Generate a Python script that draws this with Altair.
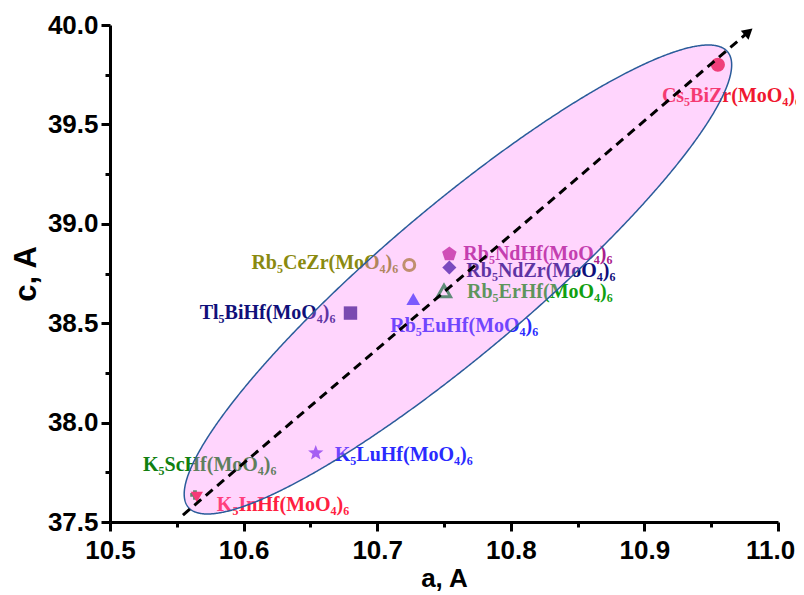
import altair as alt
import pandas as pd
import numpy as np

# ---------------- data ----------------
compounds = ["Cs₅BiZr(MoO₄)₆", "Rb₅NdHf(MoO₄)₆", "Rb₅NdZr(MoO₄)₆", "Rb₅ErHf(MoO₄)₆",
             "Rb₅CeZr(MoO₄)₆", "Rb₅EuHf(MoO₄)₆", "Tl₅BiHf(MoO₄)₆", "K₅LuHf(MoO₄)₆",
             "K₅ScHf(MoO₄)₆", "K₅InHf(MoO₄)₆"]
a_vals = [10.955, 10.754, 10.754, 10.750, 10.724, 10.727, 10.680, 10.654, 10.5636, 10.565]
c_vals = [39.800, 38.848, 38.780, 38.662, 38.793, 38.622, 38.551, 37.847, 37.636, 37.626]

# trend line (dashed arrow) end points
trend_a = [10.5546, 10.9770]
trend_c = [37.535, 39.960]

ell_a = [10.9416, 10.9641, 10.9394, 10.8668, 10.9042, 10.8817, 10.8503, 10.8331, 10.8046,
         10.7919, 10.5749, 10.5576, 10.5621, 10.6272, 10.6445, 10.6924, 10.7193,
         10.5696, 10.5584, 10.5830]
ell_c = [39.8994, 39.8089, 39.4215, 39.6881, 39.8139, 38.9688, 38.7777, 38.6670, 38.4759,
         38.4155, 37.5453, 37.6962, 37.7968, 38.3652, 38.5161, 38.8078, 38.9688,
         37.5252, 37.7465, 37.5553]

x_ticks = [10.5, 10.55, 10.6, 10.65, 10.7, 10.75, 10.8, 10.85, 10.9, 10.95, 11.0]
y_ticks = [37.5, 37.75, 38.0, 38.25, 38.5, 38.75, 39.0, 39.25, 39.5, 39.75, 40.0]

# ---------------- styles ----------------
PENT = "M0,-1L0.951,-0.309L0.588,0.809L-0.588,0.809L-0.951,-0.309Z"
STAR = ("M0,-1L0.247,-0.340L0.951,-0.309L0.399,0.130L0.588,0.809L0,0.42"
        "L-0.588,0.809L-0.399,0.130L-0.951,-0.309L-0.247,-0.340Z")
marker_shape = ["circle", PENT, "diamond", "triangle-up", "circle", "triangle-up",
                "square", STAR, "cross", "triangle-down"]
marker_color = ["#e8203c", "#b93797", "#3a31a3", "#12913a", "#a1972c", "#3a49ff",
                "#3a318c", "#7a50f0", "#108a2a", "#f01838"]
marker_size = [200, 230, 200, 170, 120, 190, 180, 260, 90, 150]
marker_filled = [True, True, True, False, False, True, True, True, True, True]
label_color = ["#f01830", "#a8208c", "#10107a", "#10a010", "#8a8a10", "#2a2aff",
               "#10107a", "#2a2aff", "#108010", "#ff2040"]
label_align = ["left", "left", "left", "left", "right", "left", "right", "left", "left", "left"]
label_dx = [-56, 14, 17, 23, -11, -23, -15, 19, -52, 20]
label_dy = [31, 0, 3, 1, -2, 27, 0, 2, -30, 8]

W, H = 668, 497
XMIN, XMAX, YMIN, YMAX = 10.5, 11.0, 37.5, 40.0
px_x = W / (XMAX - XMIN)
px_y = H / (YMAX - YMIN)

# ---- fit an ellipse (conic) through the outline points, in screen pixels ----
ex = (np.array(ell_a) - XMIN) * px_x
ey = (np.array(ell_c) - YMIN) * px_y
mx, my = ex.mean(), ey.mean()
u = (ex - mx) / 100.0
v = (ey - my) / 100.0
M = np.column_stack([u * u, u * v, v * v, u, v])
cA, cB, cC, cD, cE = np.linalg.lstsq(M, np.ones_like(u), rcond=None)[0]
q2 = cB * cB - 4 * cA * cC
q1 = 2 * cB * cE - 4 * cC * cD
q0 = cE * cE + 4 * cC
r = np.sort(np.real(np.roots([q2, q1, q0])))
mid, half = (r[0] + r[1]) / 2, (r[1] - r[0]) / 2
us = mid - half * np.cos(np.linspace(0, np.pi, 501))
disc = np.clip(q2 * us**2 + q1 * us + q0, 0, None)
v1 = (-(cB * us + cE) - np.sqrt(disc)) / (2 * cC)
v2 = (-(cB * us + cE) + np.sqrt(disc)) / (2 * cC)
ell_df = pd.DataFrame({
    "a": XMIN + (us * 100 + mx) / px_x,
    "c1": YMIN + (np.minimum(v1, v2) * 100 + my) / px_y,
    "c2": YMIN + (np.maximum(v1, v2) * 100 + my) / px_y,
})

pts = pd.DataFrame({"name": compounds, "a": a_vals, "c": c_vals,
                    "shape": marker_shape, "color": marker_color,
                    "size": marker_size, "filled": marker_filled})
trend_df = pd.DataFrame({"a": trend_a, "c": trend_c})

# ---------------- encodings ----------------
AXFONT = "Liberation Sans"
x_axis = alt.Axis(values=x_ticks, title="a, A", grid=False,
                  labelExpr="round(datum.value*100) % 10 == 0 ? format(datum.value, '.1f') : ''",
                  tickSize={"condition": {"test": "round(datum.value*100) % 10 == 0", "value": 9}, "value": 5},
                  labelOffset={"condition": {"test": "datum.value >= 10.99", "value": -8}, "value": 0},
                  tickWidth=3, domainWidth=3, domainColor="black", tickColor="black",
                  labelFont=AXFONT, labelFontSize=26, labelFontWeight="bold", labelColor="black",
                  labelPadding=6, labelFlush=False, labelOverlap=False,
                  titleFont=AXFONT, titleFontSize=26, titleFontWeight="bold", titleColor="black",
                  titlePadding=2)
y_axis = alt.Axis(values=y_ticks, title="c, A", grid=False,
                  labelExpr="round(datum.value*100) % 50 == 0 ? format(datum.value, '.1f') : ''",
                  tickSize={"condition": {"test": "round(datum.value*100) % 50 == 0", "value": 9}, "value": 5},
                  tickWidth=3, domainWidth=3, domainColor="black", tickColor="black",
                  labelFont=AXFONT, labelFontSize=26, labelFontWeight="bold", labelColor="black",
                  labelPadding=3, labelFlush=False, labelOverlap=False,
                  titleFont=AXFONT, titleFontSize=31, titleFontWeight="bold", titleColor="black",
                  titlePadding=5)
xs_scale = alt.Scale(domain=[XMIN, XMAX], nice=False, zero=False)
ys_scale = alt.Scale(domain=[YMIN, YMAX], nice=False, zero=False)


def X(field="a"):
    return alt.X(f"{field}:Q", scale=xs_scale, axis=x_axis)


def Y(field="c"):
    return alt.Y(f"{field}:Q", scale=ys_scale, axis=y_axis)


labels = []
for i in range(len(compounds)):
    labels.append(
        alt.Chart(pts.iloc[[i]]).mark_text(
            align=label_align[i], baseline="middle", dx=label_dx[i], dy=label_dy[i],
            font="Liberation Serif", fontSize=20, fontWeight="bold", color=label_color[i]
        ).encode(x=X(), y=Y(), text="name:N")
    )

filled_pts = alt.Chart(pts[pts["filled"]]).mark_point(filled=True, opacity=1).encode(
    x=X(), y=Y(),
    shape=alt.Shape("shape:N", scale=None),
    color=alt.Color("color:N", scale=None),
    size=alt.Size("size:Q", scale=None),
)
open_pts = alt.Chart(pts[~pts["filled"]]).mark_point(filled=False, opacity=1, strokeWidth=3).encode(
    x=X(), y=Y(),
    shape=alt.Shape("shape:N", scale=None),
    color=alt.Color("color:N", scale=None),
    size=alt.Size("size:Q", scale=None),
)

# translucent ellipse drawn over the points and labels
ellipse = alt.Chart(ell_df).mark_area(
    fill="#ff80fa", fillOpacity=0.33, stroke="#2a5c9a", strokeWidth=1.5, strokeOpacity=1
).encode(x=X(), y=Y("c1"), y2="c2:Q")

trend = alt.Chart(trend_df).mark_line(
    color="black", strokeWidth=3, strokeDash=[9, 6]
).encode(x=X(), y=Y())

arrow = alt.Chart(trend_df.iloc[[1]]).mark_point(
    shape="triangle", filled=True, color="black", size=140, angle=49.4, opacity=1
).encode(x=X(), y=Y())

chart = alt.layer(*labels, filled_pts, open_pts, ellipse, trend, arrow).properties(
    width=W, height=H,
    padding={"left": 102, "top": 17, "right": 18, "bottom": 70},
    autosize=alt.AutoSizeParams(type="none"),
).configure_view(stroke=None)

chart.save("out.html", embed_options={"renderer": "svg", "actions": False})
